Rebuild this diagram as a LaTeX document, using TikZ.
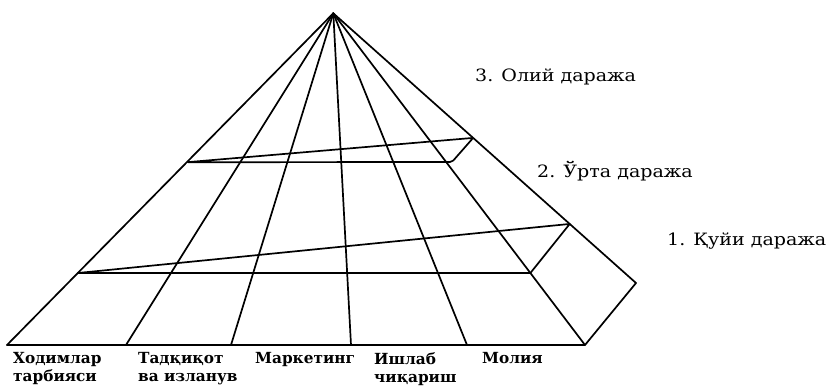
\documentclass[tikz,border=0pt]{standalone}
\usepackage{fontspec}
\setmainfont{DejaVu Serif}
\newfontfamily\lvlfont{DejaVu Serif}[FakeStretch=1.12]
\usetikzlibrary{calc}
\begin{document}
\begin{tikzpicture}[x=1pt,y=-1pt,
  edge/.style={line width=1.7pt,line join=round,line cap=round},
  lvl/.style={font=\lvlfont\fontsize{17}{18}\selectfont,anchor=base west,inner sep=0pt},
  dept/.style={font=\bfseries\fontsize{15.3}{18}\selectfont,anchor=north west,inner sep=0pt,align=left}]
\useasboundingbox (0,0) rectangle (830,387);
% apex and base points
\coordinate (A) at (333.3,13.3);
\coordinate (L0) at (7,345);
\coordinate (P1) at (126,345);
\coordinate (P2) at (231,345);
\coordinate (P3) at (351,345);
\coordinate (P4) at (467,345);
\coordinate (R0) at (585,345);
\coordinate (B0) at (636,283);
% level 1
\coordinate (L1) at ($(A)!0.783!(L0)$);
\coordinate (F1) at ($(A)!0.783!(R0)$);
\coordinate (B1) at ($(A)!0.781!(B0)$);
% level 2
\coordinate (L2) at ($(A)!0.449!(L0)$);
\coordinate (F2) at (452,162);
\coordinate (B2) at ($(A)!0.462!(B0)$);
% rays from apex
\foreach \p in {L0,P1,P2,P3,P4,R0,B0} \draw[edge] (A) -- (\p);
% base
\draw[edge] (L0) -- (R0) -- (B0);
% level planes
\draw[edge] (L1) -- (F1) -- (B1) -- cycle;
\draw[edge,rounded corners=2pt] (L2) -- (F2) -- (B2) -- cycle;
% level labels
\node[lvl] (t3) at (475,82) {3. Олий даража};
\node[lvl] (t2) at (537,178) {2. Ўрта даража};
\node[lvl] (t1) at (667,246) {1. Қуйи даража};
% department labels
\node[dept] (d1) at (13,352) {Ходимлар\\тарбияси};
\node[dept] (d2) at (138,352) {Тадқиқот\\ва изланув};
\node[dept] (d3) at (255,352) {Маркетинг};
\node[dept] (d4) at (374,352) {Ишлаб\\чиқариш};
\node[dept] (d5) at (482,352) {Молия};
\end{tikzpicture}
\end{document}
